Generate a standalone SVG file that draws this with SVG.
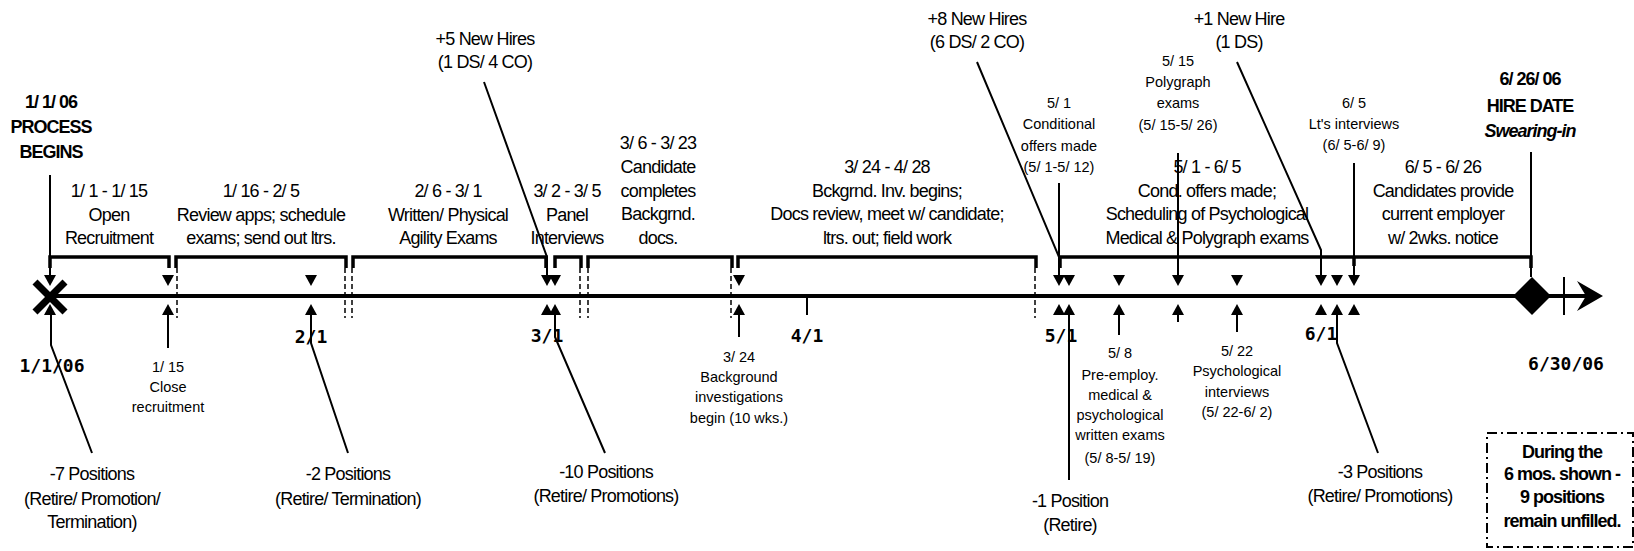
<svg xmlns="http://www.w3.org/2000/svg" width="1634" height="551" viewBox="0 0 1634 551">
<style>
text{font-family:"Liberation Sans",Arial,sans-serif;fill:#000;text-anchor:middle}
.t{font-size:18px;letter-spacing:-0.8px}
.s{font-size:14.5px}
.b{font-size:18px;font-weight:bold;letter-spacing:-1px}
.m{font-family:"DejaVu Sans Mono",monospace;font-size:18px;font-weight:bold;letter-spacing:0}
.ln{fill:none;stroke:#000;stroke-width:2}
.br{fill:none;stroke:#000;stroke-width:3.5}
.ds{fill:none;stroke:#000;stroke-width:1.5;stroke-dasharray:5 3}
</style>
<defs>
<path id="dn" d="M-6,0 L6,0 L0,11 Z" fill="#000"/>
<path id="up" d="M-6,0 L6,0 L0,-11 Z" fill="#000"/>
</defs>
<rect width="1634" height="551" fill="#fff"/>

<g id="axis">
<line x1="50" y1="296" x2="1590" y2="296" stroke="#000" stroke-width="4"/>
<polygon points="1577,281 1603,296 1577,311 1586,296" fill="#000"/>
<line x1="807" y1="296" x2="807" y2="315" stroke="#000" stroke-width="2"/>
<line x1="1564" y1="277" x2="1564" y2="315" stroke="#000" stroke-width="2"/>
<g stroke="#000" stroke-width="7">
<line x1="35" y1="282" x2="65" y2="312"/>
<line x1="35" y1="312" x2="65" y2="282"/>
</g>
<polygon points="1532,277 1551,296 1532,315 1513,296" fill="#000"/>
</g>

<g id="brackets">
<path class="br" d="M50,268 V257 H169 V268"/>
<path class="br" d="M176,268 V257 H346 V268"/>
<path class="br" d="M353,268 V257 H546 V268"/>
<path class="br" d="M555,268 V257 H581 V268"/>
<path class="br" d="M588,268 V257 H732 V268"/>
<path class="br" d="M738,268 V257 H1036 V268"/>
<path class="br" d="M1060,268 V257 H1531 V268"/>
<path class="br" d="M1354,257 V266"/>
<path class="ds" d="M177,268 V318 M345,268 V318 M352,268 V318 M580,268 V318 M588,268 V318 M731,268 V318 M1035,268 V318"/>
</g>

<g id="markers">
<use href="#dn" x="50" y="275"/><use href="#up" x="50" y="315"/>
<use href="#dn" x="168" y="275"/><use href="#up" x="168" y="315"/>
<use href="#dn" x="311" y="275"/><use href="#up" x="311" y="315"/>
<use href="#dn" x="547" y="275"/><use href="#up" x="547" y="315"/>
<use href="#dn" x="555" y="275"/><use href="#up" x="555" y="315"/>
<use href="#dn" x="739" y="275"/><use href="#up" x="739" y="315"/>
<use href="#dn" x="1059" y="275"/><use href="#up" x="1059" y="315"/>
<use href="#dn" x="1069" y="275"/><use href="#up" x="1069" y="315"/>
<use href="#dn" x="1119" y="275"/><use href="#up" x="1119" y="315"/>
<use href="#dn" x="1178" y="275"/><use href="#up" x="1178" y="315"/>
<use href="#dn" x="1237" y="275"/><use href="#up" x="1237" y="315"/>
<use href="#dn" x="1321" y="275"/><use href="#up" x="1321" y="315"/>
<use href="#dn" x="1337" y="275"/><use href="#up" x="1337" y="315"/>
<use href="#dn" x="1354" y="275"/><use href="#up" x="1354" y="315"/>
</g>

<g id="connectors">
<path class="ln" d="M50,175 V275"/>
<path class="ln" d="M92,453 L51,345 V315"/>
<path class="ln" d="M168,348 V315"/>
<path class="ln" d="M348,453 L311,343 V315"/>
<path class="ln" d="M484,82 L547,257 V275"/>
<path class="ln" d="M605,453 L555,337 V315"/>
<path class="ln" d="M739,337 V315"/>
<path class="ln" d="M977,62 L1059,257 V275"/>
<path class="ln" d="M1059,183 V257"/>
<path class="ln" d="M1069,480 V315"/>
<path class="ln" d="M1119,335 V315"/>
<path class="ln" d="M1178,153 V275"/>
<path class="ln" d="M1178,322 V315"/>
<path class="ln" d="M1237,332 V315"/>
<path class="ln" d="M1237,62 L1321,250 V275"/>
<path class="ln" d="M1354,163 V275"/>
<path class="ln" d="M1378,453 L1337,343 V315"/>
<path class="ln" d="M1531,152 V277"/>
</g>

<g id="start"><text class="b" x="51" y="108">1/ 1/ 06</text><text class="b" x="51" y="133">PROCESS</text><text class="b" x="51" y="158">BEGINS</text></g>

<g id="p1"><text class="t" x="109" y="197">1/ 1 - 1/ 15</text><text class="t" x="109" y="221">Open</text><text class="t" x="109" y="244">Recruitment</text></g>
<g id="p2"><text class="t" x="261" y="197">1/ 16 - 2/ 5</text><text class="t" x="261" y="221">Review apps; schedule</text><text class="t" x="261" y="244">exams; send out ltrs.</text></g>
<g id="p3"><text class="t" x="448" y="197">2/ 6 - 3/ 1</text><text class="t" x="448" y="221">Written/ Physical</text><text class="t" x="448" y="244">Agility Exams</text></g>
<g id="p4"><text class="t" x="567" y="197">3/ 2 - 3/ 5</text><text class="t" x="567" y="221">Panel</text><text class="t" x="567" y="244">Interviews</text></g>
<g id="p5"><text class="t" x="658" y="149">3/ 6 - 3/ 23</text><text class="t" x="658" y="173">Candidate</text><text class="t" x="658" y="197">completes</text><text class="t" x="658" y="220">Backgrnd.</text><text class="t" x="658" y="244">docs.</text></g>
<g id="p6"><text class="t" x="887" y="173">3/ 24 - 4/ 28</text><text class="t" x="887" y="197">Bckgrnd. Inv. begins;</text><text class="t" x="887" y="220">Docs review, meet w/ candidate;</text><text class="t" x="887" y="244">ltrs. out; field work</text></g>
<g id="p7"><text class="t" x="1207" y="173">5/ 1 - 6/ 5</text><text class="t" x="1207" y="197">Cond. offers made;</text><text class="t" x="1207" y="220">Scheduling of Psychological</text><text class="t" x="1207" y="244">Medical &amp; Polygraph exams</text></g>
<g id="p8"><text class="t" x="1443" y="173">6/ 5 - 6/ 26</text><text class="t" x="1443" y="197">Candidates provide</text><text class="t" x="1443" y="220">current employer</text><text class="t" x="1443" y="244">w/ 2wks. notice</text></g>

<g id="cond"><text class="s" x="1059" y="108">5/ 1</text><text class="s" x="1059" y="129">Conditional</text><text class="s" x="1059" y="151">offers made</text><text class="s" x="1059" y="172">(5/ 1-5/ 12)</text></g>
<g id="poly"><text class="s" x="1178" y="66">5/ 15</text><text class="s" x="1178" y="87">Polygraph</text><text class="s" x="1178" y="108">exams</text><text class="s" x="1178" y="130">(5/ 15-5/ 26)</text></g>
<g id="lt"><text class="s" x="1354" y="108">6/ 5</text><text class="s" x="1354" y="129">Lt's interviews</text><text class="s" x="1354" y="150">(6/ 5-6/ 9)</text></g>
<g id="close"><text class="s" x="168" y="372">1/ 15</text><text class="s" x="168" y="392">Close</text><text class="s" x="168" y="412">recruitment</text></g>
<g id="bg"><text class="s" x="739" y="362">3/ 24</text><text class="s" x="739" y="382">Background</text><text class="s" x="739" y="402">investigations</text><text class="s" x="739" y="423">begin (10 wks.)</text></g>
<g id="pre"><text class="s" x="1120" y="358">5/ 8</text><text class="s" x="1120" y="380">Pre-employ.</text><text class="s" x="1120" y="400">medical &amp;</text><text class="s" x="1120" y="420">psychological</text><text class="s" x="1120" y="440">written exams</text><text class="s" x="1120" y="463">(5/ 8-5/ 19)</text></g>
<g id="psy"><text class="s" x="1237" y="356">5/ 22</text><text class="s" x="1237" y="376">Psychological</text><text class="s" x="1237" y="397">interviews</text><text class="s" x="1237" y="417">(5/ 22-6/ 2)</text></g>

<g id="hire5"><text class="t" x="485" y="45">+5 New Hires</text><text class="t" x="485" y="68">(1 DS/ 4 CO)</text></g>
<g id="hire8"><text class="t" x="977" y="25">+8 New Hires</text><text class="t" x="977" y="48">(6 DS/ 2 CO)</text></g>
<g id="hire1"><text class="t" x="1239" y="25">+1 New Hire</text><text class="t" x="1239" y="48">(1 DS)</text></g>

<g id="pos7"><text class="t" x="92" y="480">-7 Positions</text><text class="t" x="92" y="505">(Retire/ Promotion/</text><text class="t" x="92" y="528">Termination)</text></g>
<g id="pos2"><text class="t" x="348" y="480">-2 Positions</text><text class="t" x="348" y="505">(Retire/ Termination)</text></g>
<g id="pos10"><text class="t" x="606" y="478">-10 Positions</text><text class="t" x="606" y="502">(Retire/ Promotions)</text></g>
<g id="pos1"><text class="t" x="1070" y="507">-1 Position</text><text class="t" x="1070" y="531">(Retire)</text></g>
<g id="pos3"><text class="t" x="1380" y="478">-3 Positions</text><text class="t" x="1380" y="502">(Retire/ Promotions)</text></g>

<g id="hiredate"><text class="b" x="1530" y="85">6/ 26/ 06</text><text class="b" x="1530" y="112">HIRE DATE</text><text class="b" x="1530" y="137" font-style="italic">Swearing-in</text></g>

<g id="summary">
<rect x="1487" y="433" width="146" height="114" fill="none" stroke="#000" stroke-width="2" stroke-dasharray="10 4 2 4"/>
<text class="b" x="1562" y="458">During the</text><text class="b" x="1562" y="480">6 mos. shown -</text><text class="b" x="1562" y="503">9 positions</text><text class="b" x="1562" y="527">remain unfilled.</text>
</g>

<g id="dates">
<text class="m" x="52" y="372">1/1/06</text>
<text class="m" x="311" y="343">2/1</text>
<text class="m" x="547" y="342">3/1</text>
<text class="m" x="807" y="342">4/1</text>
<text class="m" x="1061" y="342">5/1</text>
<text class="m" x="1321" y="340">6/1</text>
<text class="m" x="1566" y="370">6/30/06</text>
</g>
</svg>
